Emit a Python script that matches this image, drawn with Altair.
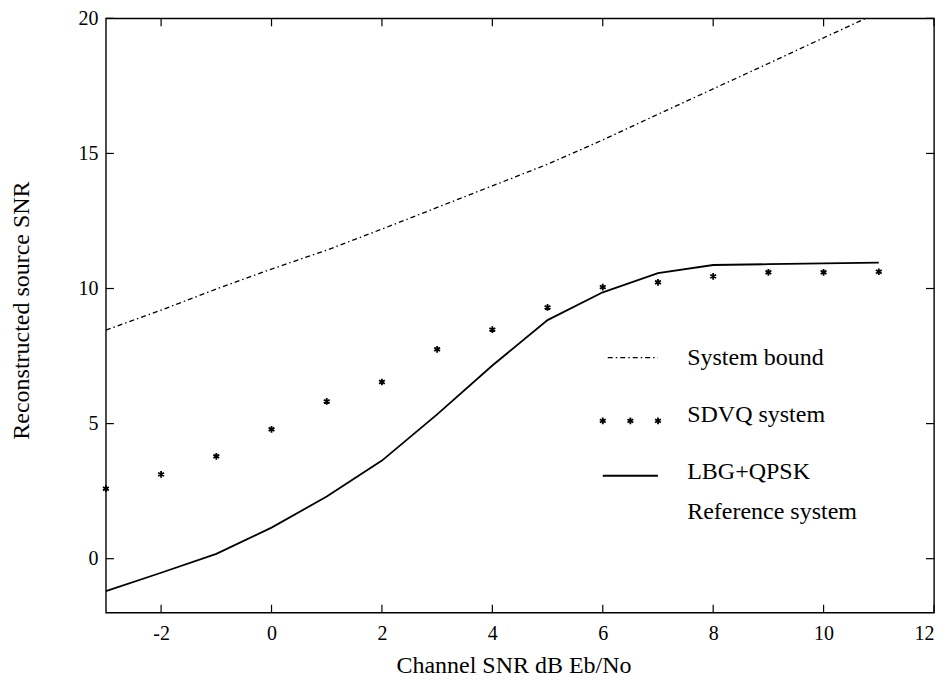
import altair as alt
import pandas as pd

# ---- data ----
x_vals = [-3, -2, -1, 0, 1, 2, 3, 4, 5, 6, 7, 8, 9, 10, 11]
bound_vals = [8.46, 9.2, 9.98, 10.72, 11.42, 12.2, 13.0, 13.8, 14.6, 15.5, 16.45, 17.39, 18.33, 19.28, 20.22]
sdvq_vals = [2.59, 3.12, 3.79, 4.79, 5.82, 6.54, 7.75, 8.48, 9.30, 10.05, 10.23, 10.45, 10.6, 10.6, 10.62]
lbg_vals = [-1.2, -0.52, 0.18, 1.15, 2.3, 3.63, 5.34, 7.15, 8.83, 9.86, 10.57, 10.87, 10.9, 10.93, 10.96]

x_ticks = [-2, 0, 2, 4, 6, 8, 10, 12]
y_ticks = [0, 5, 10, 15, 20]

legend_labels = ["System bound", "SDVQ system", "LBG+QPSK", "Reference system"]

# ---- layout constants ----
W, H = 829, 595
FONT = "Liberation Serif"
TICK_FS = 20
TITLE_FS = 24
LEG_FS = 24
TL = 8  # inward tick length

df = pd.DataFrame({"x": x_vals, "bound": bound_vals, "sdvq": sdvq_vals, "lbg": lbg_vals})
xt = pd.DataFrame({"t": x_ticks})
yt = pd.DataFrame({"t": y_ticks})

xs = alt.Scale(domain=[-3, 12], nice=False, zero=False)
ys = alt.Scale(domain=[-2, 20], nice=False, zero=False)

main_x = alt.Axis(orient="bottom", values=x_ticks, ticks=False, domain=False, grid=False,
                  labelFont=FONT, labelFontSize=TICK_FS, labelColor="black", labelPadding=11,
                  labelExpr="toString(datum.value)",
                  title="Channel SNR dB Eb/No", titleFont=FONT, titleFontSize=TITLE_FS,
                  titleFontWeight="normal", titleColor="black", titlePadding=10,
                  titleX=408)
main_y = alt.Axis(orient="left", values=y_ticks, ticks=False, domain=False, grid=False,
                  labelFont=FONT, labelFontSize=TICK_FS, labelColor="black", labelPadding=8,
                  title="Reconstructed source SNR", titleFont=FONT, titleFontSize=TITLE_FS,
                  titleFontWeight="normal", titleColor="black", titlePadding=44,
                  titleY=292)

star = "M0,-1L0,1M-0.87,-0.5L0.87,0.5M-0.87,0.5L0.87,-0.5"
dashdot = [5, 3, 1.5, 3]

bound_line = alt.Chart(df).mark_line(color="black", strokeWidth=1.3, strokeDash=dashdot, clip=True).encode(
    x=alt.X("x:Q", scale=xs, axis=main_x),
    y=alt.Y("bound:Q", scale=ys, axis=main_y),
)

sdvq_pts = alt.Chart(df).mark_point(shape=star, size=45, color="black", strokeWidth=1.8, filled=False, opacity=1).encode(
    x=alt.X("x:Q", scale=xs, axis=None),
    y=alt.Y("sdvq:Q", scale=ys, axis=None),
)

lbg_line = alt.Chart(df).mark_line(color="black", strokeWidth=1.8).encode(
    x=alt.X("x:Q", scale=xs, axis=None),
    y=alt.Y("lbg:Q", scale=ys, axis=None),
)

# ---- inward ticks on all four sides ----
tick_style = dict(color="black", strokeWidth=1.2)
tick_bottom = alt.Chart(xt).mark_rule(**tick_style).encode(
    x=alt.X("t:Q", scale=xs, axis=None), y=alt.value(H), y2=alt.value(H - TL))
tick_top = alt.Chart(xt).mark_rule(**tick_style).encode(
    x=alt.X("t:Q", scale=xs, axis=None), y=alt.value(0), y2=alt.value(TL))
tick_left = alt.Chart(yt).mark_rule(**tick_style).encode(
    y=alt.Y("t:Q", scale=ys, axis=None), x=alt.value(0), x2=alt.value(TL))
tick_right = alt.Chart(yt).mark_rule(**tick_style).encode(
    y=alt.Y("t:Q", scale=ys, axis=None), x=alt.value(W), x2=alt.value(W - TL))

# ---- manual legend (in data units) ----
leg_y = [7.44, 5.3, 3.22, 1.74]
leg_text = pd.DataFrame({"label": legend_labels, "y": leg_y, "x": [7.53] * 4})
leg_bound = pd.DataFrame({"x": [6.09, 7.0], "y": [7.44, 7.44]})
leg_stars = pd.DataFrame({"x": [6.0, 6.5, 7.0], "y": [5.1, 5.1, 5.1]})
leg_solid = pd.DataFrame({"x": [6.0, 7.0], "y": [3.07, 3.07]})

t = alt.Chart(leg_text).mark_text(align="left", baseline="middle", font=FONT, fontSize=LEG_FS, color="black").encode(
    x=alt.X("x:Q", scale=xs, axis=None), y=alt.Y("y:Q", scale=ys, axis=None), text="label:N")
lb = alt.Chart(leg_bound).mark_line(color="black", strokeWidth=1.3, strokeDash=dashdot).encode(
    x=alt.X("x:Q", scale=xs, axis=None), y=alt.Y("y:Q", scale=ys, axis=None))
ls = alt.Chart(leg_stars).mark_point(shape=star, size=45, color="black", strokeWidth=1.8, filled=False, opacity=1).encode(
    x=alt.X("x:Q", scale=xs, axis=None), y=alt.Y("y:Q", scale=ys, axis=None))
ll = alt.Chart(leg_solid).mark_line(color="black", strokeWidth=1.8).encode(
    x=alt.X("x:Q", scale=xs, axis=None), y=alt.Y("y:Q", scale=ys, axis=None))

chart = alt.layer(
    bound_line, sdvq_pts, lbg_line,
    tick_bottom, tick_top, tick_left, tick_right,
    t, lb, ls, ll,
).resolve_axis(
    x="independent", y="independent"
).properties(
    width=W, height=H,
    autosize=alt.AutoSizeParams(type="none"),
    padding={"left": 98, "top": 10, "right": 8, "bottom": 80},
    background="white",
).configure_view(stroke="black", strokeWidth=1.4)

chart.save("out.html", embed_options={"renderer": "svg", "actions": False})
